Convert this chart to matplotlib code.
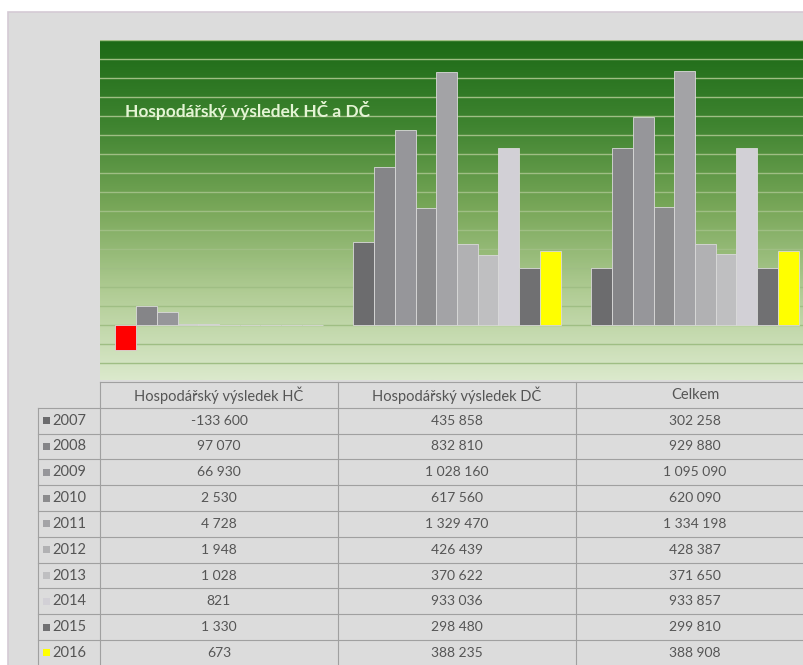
import numpy as np
import matplotlib.pyplot as plt
from matplotlib.colors import LinearSegmentedColormap
from matplotlib.patches import Rectangle

plt.rcParams['font.family'] = ['Lato', 'DejaVu Sans']

# data
categories = ["Hospodářský výsledek HČ", "Hospodářský výsledek DČ", "Celkem"]
years = ["2007", "2008", "2009", "2010", "2011", "2012", "2013", "2014", "2015", "2016"]
hc = [-133600, 97070, 66930, 2530, 4728, 1948, 1028, 821, 1330, 673]
dc = [435858, 832810, 1028160, 617560, 1329470, 426439, 370622, 933036, 298480, 388235]
celkem = [302258, 929880, 1095090, 620090, 1334198, 428387, 371650, 933857, 299810, 388908]
colors = ["#6c6c6e", "#858588", "#96969a", "#8b8b8d", "#a3a3a6",
          "#b1b1b3", "#bfbfc1", "#d2d0d6", "#707072", "#ffff00"]

values = np.array([hc, dc, celkem])  # rows = category, cols = year

W, H = 804, 665
fig = plt.figure(figsize=(W / 100, H / 100), dpi=100)
fig.patch.set_facecolor("white")

# background / table layer in pixel coordinates
bg = fig.add_axes([0, 0, 1, 1])
bg.set_xlim(0, W)
bg.set_ylim(H, 0)
bg.axis("off")
bg.add_patch(Rectangle((8, 12), W, H, facecolor="#dcdcdc", edgecolor="#d4cad4", lw=1.2))

# plot area
left, right, top, bottom = 100, 814, 40, 380
ax = fig.add_axes([left / W, (H - bottom) / H, (right - left) / W, (bottom - top) / H])
cmap = LinearSegmentedColormap.from_list(
    "grn", ["#1c6a16", "#3f8430", "#7aa85a", "#b2cd96", "#dbe9cc"])
grad = np.linspace(0, 1, 256).reshape(-1, 1)
ax.imshow(grad, cmap=cmap, aspect="auto", extent=[0, 1, 0, 1],
          transform=ax.transAxes, zorder=0, origin="upper")

ngroup = len(years)
group_w = 0.87
bw = group_w / ngroup
x = np.arange(len(categories))
for i, yr in enumerate(years):
    col = values[:, i]
    fc = ["#ff0000" if v < 0 else colors[i] for v in col]
    ax.bar(x - group_w / 2 + i * bw, col, width=bw, align="edge",
           color=fc, edgecolor="#dadada", linewidth=0.6, zorder=3)

ax.set_xlim(-0.5, 2.5)
ax.set_ylim(-290000, 1500000)
ax.set_yticks(np.arange(-200000, 1500001, 100000))
ax.yaxis.grid(True, color="#9fbe84", lw=1.0, zorder=1)
ax.set_axisbelow(True)
ax.tick_params(left=False, bottom=False, labelleft=False, labelbottom=False)
for s in ax.spines.values():
    s.set_visible(False)
ax.text((125 - left) / (right - left), (bottom - 110) / (bottom - top),
        "Hospodářský výsledek HČ a DČ", transform=ax.transAxes,
        fontsize=12.5, fontweight="bold", color="#e4f4d4", va="center", ha="left")

# data table
col_w = (right - left) / len(categories)
head_top = 382
row_h = 25.8
lbl_left = 38
line_c = "#a0a0a0"
txt_c = "#555555"

n_rows = len(years)
tab_bottom = head_top + row_h * (n_rows + 1)
bg.plot([left, W], [head_top, head_top], color=line_c, lw=0.8)
for r in range(n_rows + 1):
    yy = head_top + row_h * (r + 1)
    bg.plot([lbl_left, W], [yy, yy], color=line_c, lw=0.8)
bg.plot([lbl_left, lbl_left], [head_top + row_h, tab_bottom], color=line_c, lw=0.8)
for c in range(len(categories)):
    xx = left + c * col_w
    bg.plot([xx, xx], [head_top, tab_bottom], color=line_c, lw=0.8)

for c, name in enumerate(categories):
    cx = left + (c + 0.5) * col_w
    bg.text(cx, head_top + row_h / 2, name, ha="center", va="center",
            fontsize=10.5, color=txt_c)
    for r in range(n_rows):
        cy = head_top + row_h * (r + 1.5)
        s = f"{int(values[c, r]):,}".replace(",", " ")
        bg.text(cx, cy, s, ha="center", va="center", fontsize=10, color=txt_c)

for r, yr in enumerate(years):
    cy = head_top + row_h * (r + 1.5)
    bg.add_patch(Rectangle((43, cy - 3.5), 7, 7, facecolor=colors[r], edgecolor="none"))
    bg.text(52, cy, yr, ha="left", va="center", fontsize=10.5, color=txt_c)

fig.savefig("out.png", dpi=100)
